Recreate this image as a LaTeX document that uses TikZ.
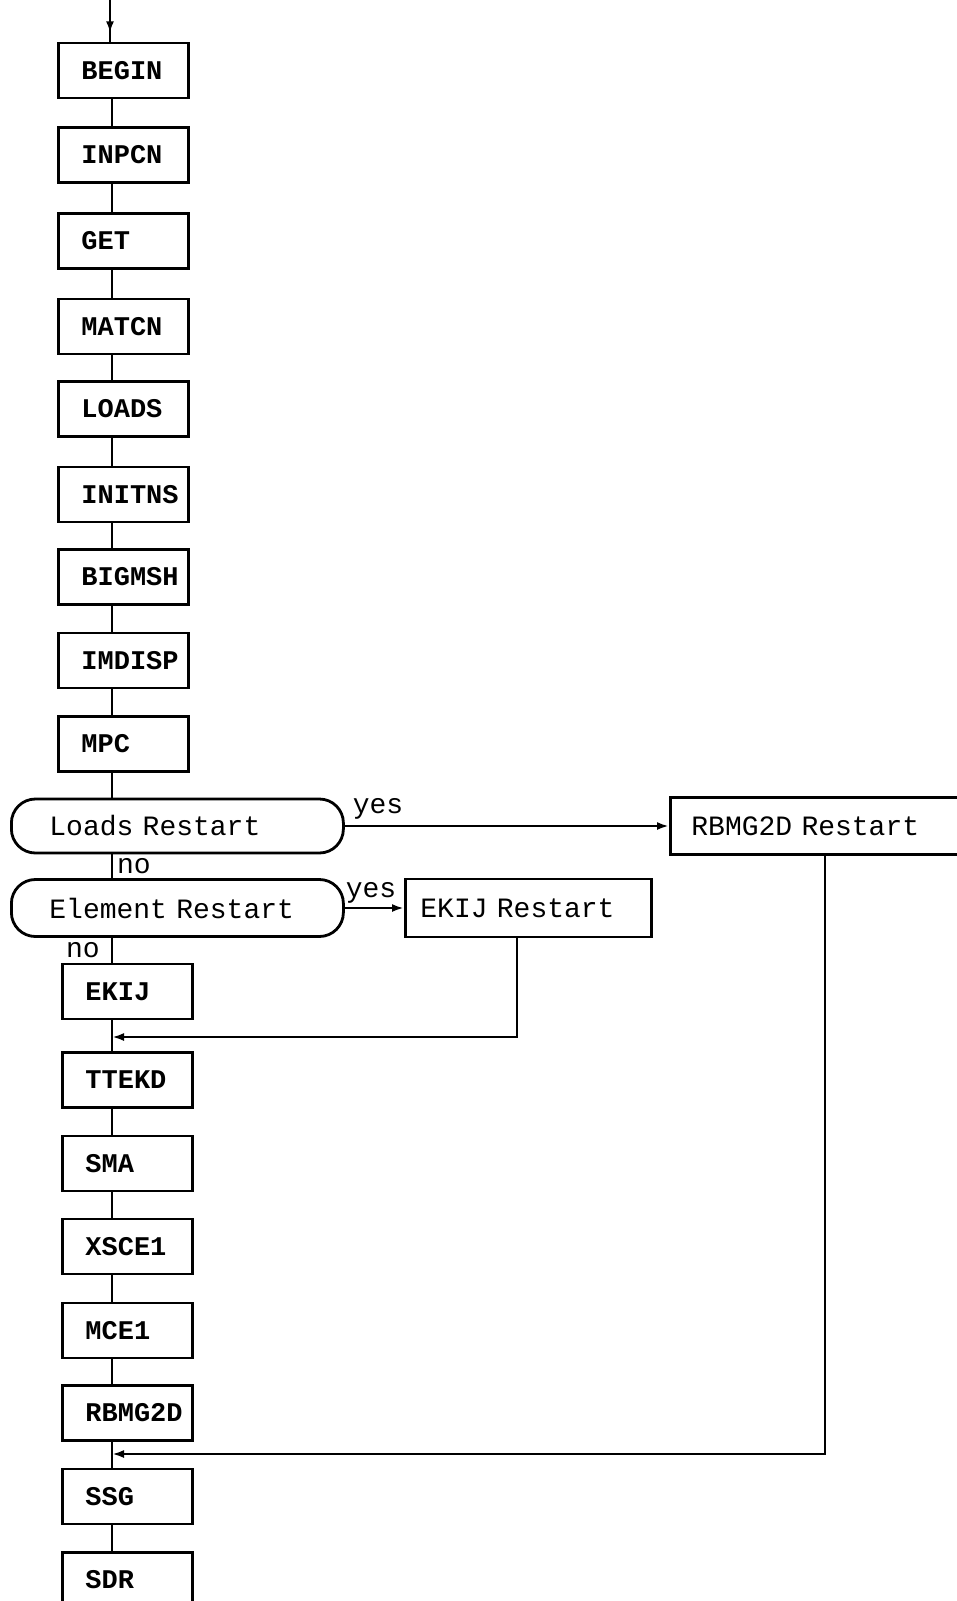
\documentclass[tikz,border=0pt]{standalone}
\usepackage{fontspec}
\setmonofont{Liberation Mono}
\usetikzlibrary{arrows.meta,decorations.markings}
\begin{document}
\begin{tikzpicture}[x=1pt,y=-1pt,
  line/.style={line width=2.6pt},
  arr/.style={line width=2.4pt,-{Latex[length=12pt,width=8pt]}},
  stepbox/.style={draw,line width=2.8pt,minimum height=55pt,text width=130pt,inner xsep=0pt,align=left,anchor=west,
    font=\fontsize{27}{30}\selectfont\ttfamily\bfseries,execute at begin node=\hspace*{23pt}},
  decision/.style={draw,line width=2.8pt,rounded corners=24pt,minimum height=54pt,text width=332pt,inner xsep=0pt,align=left,anchor=west,
    font=\fontsize{28}{30}\selectfont\ttfamily,execute at begin node=\hspace*{38pt}},
  rbox/.style={draw,line width=2.8pt,minimum height=57pt,inner xsep=0pt,align=left,anchor=west,
    font=\fontsize{28}{30}\selectfont\ttfamily},
  lab/.style={font=\fontsize{28}{30}\selectfont\ttfamily,inner sep=0pt}
]
\useasboundingbox (0,0) rectangle (957,1601);
\coordinate (T) at (112,0);
\coordinate (start) at (110,0);
\coordinate (d1) at (517,0);
\coordinate (d2) at (825,0);
\coordinate (J1) at (112,1037);
\coordinate (J2) at (112,1454);

\node[stepbox] (BEGIN) at (57,70.5) {BEGIN};
\node[stepbox] (INPCN) at (57,155) {INPCN};
\node[stepbox] (GET) at (57,241) {GET};
\node[stepbox] (MATCN) at (57,326.5) {MATCN};
\node[stepbox] (LOADS) at (57,409) {LOADS};
\node[stepbox] (INITNS) at (57,494.5) {INITNS};
\node[stepbox] (BIGMSH) at (57,577) {BIGMSH};
\node[stepbox] (IMDISP) at (57,660.5) {IMDISP};
\node[stepbox] (MPC) at (57,744) {MPC};
\node[decision] (LR) at (10,826) {Loads Restart};
\node[decision,minimum height=57pt] (ER) at (10,908) {Element Restart};
\node[stepbox] (EKIJ) at (61,991.5) {EKIJ};
\node[stepbox] (TTEKD) at (61,1080) {TTEKD};
\node[stepbox] (SMA) at (61,1163.5) {SMA};
\node[stepbox] (XSCE1) at (61,1246.5) {XSCE1};
\node[stepbox] (MCE1) at (61,1330.5) {MCE1};
\node[stepbox] (RBMG) at (61,1413) {RBMG2D};
\node[stepbox] (SSG) at (61,1496.5) {SSG};
\node[stepbox] (SDR) at (61,1580) {SDR};

\node[rbox,text width=246pt,minimum height=58pt,execute at begin node=\hspace*{15pt}] (EKR) at (404,908) {EKIJ Restart};
\node[rbox,text width=316pt,execute at begin node=\hspace*{21pt}] (RBR) at (669,826) {RBMG2D Restart};

\draw[line,postaction={decorate},decoration={markings,mark=at position 0.78 with {\arrow{Latex[length=11pt,width=8pt]}}}]
  (start) -- (BEGIN.north -| start);

\foreach \a/\b in {BEGIN/INPCN,INPCN/GET,GET/MATCN,MATCN/LOADS,LOADS/INITNS,INITNS/BIGMSH,BIGMSH/IMDISP,IMDISP/MPC,MPC/LR,LR/ER,ER/EKIJ,EKIJ/TTEKD,TTEKD/SMA,SMA/XSCE1,XSCE1/MCE1,MCE1/RBMG,RBMG/SSG,SSG/SDR}
  \draw[line] (\a.south -| T) -- (\b.north -| T);

\draw[arr] (LR.east) -- (RBR.west);
\draw[arr] (ER.east) -- (EKR.west);
\draw[arr] (EKR.south -| d1) |- (J1);
\draw[arr] (RBR.south -| d2) |- (J2);

\node[lab] (yes1) at (378,809) {yes};
\node[lab] (yes2) at (371,893) {yes};
\node[lab] (no1) at (134,866) {no};
\node[lab] (no2) at (83,950) {no};
\end{tikzpicture}
\end{document}
